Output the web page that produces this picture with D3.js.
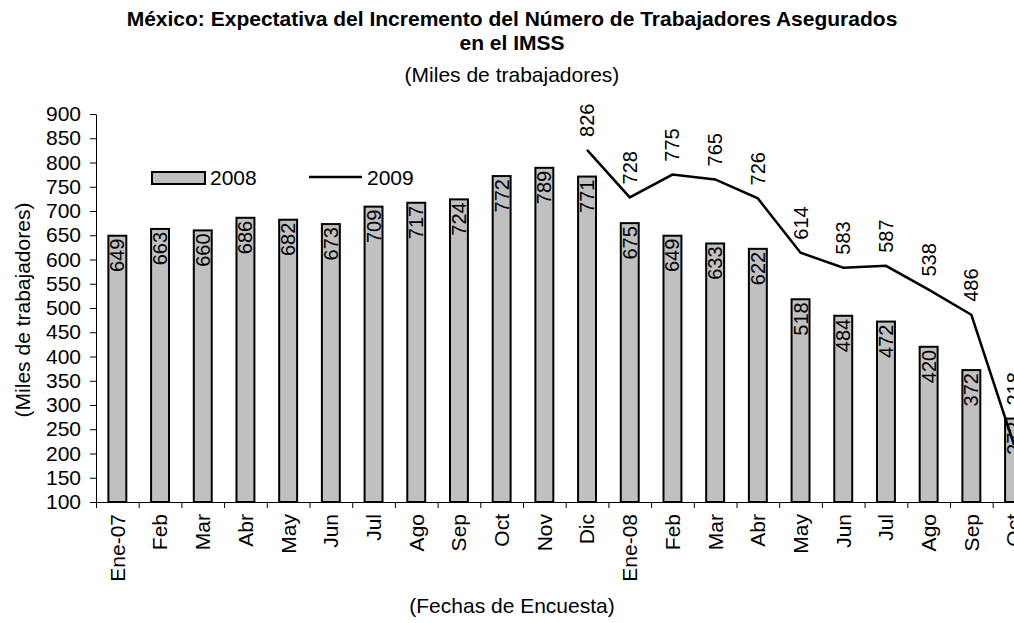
<!DOCTYPE html>
<html>
<head>
<meta charset="utf-8">
<script src="https://cdn.jsdelivr.net/npm/d3@7"></script>
<style>
  body { margin: 0; background: #fff; }
  svg { font-family: "Liberation Sans", Arial, sans-serif; }
</style>
</head>
<body>
<svg id="chart" width="1014" height="623"></svg>
<script>
// survey dates
const categories = ["Ene-07","Feb","Mar","Abr","May","Jun","Jul","Ago","Sep","Oct","Nov","Dic",
                    "Ene-08","Feb","Mar","Abr","May","Jun","Jul","Ago","Sep","Oct"];
// expectations for 2008 (bars)
const values2008 = [649,663,660,686,682,673,709,717,724,772,789,771,675,649,633,622,518,484,472,420,372,272];
// expectations for 2009 (line), starts in Dic
const values2009 = [null,null,null,null,null,null,null,null,null,null,null,
                    826,728,775,765,726,614,583,587,538,486,218];
const yTicks = d3.range(100, 901, 50);

const svg = d3.select("#chart");
const plotLeft = 96, plotTop = 114, plotBottom = 502;
const step = 42.7;
const fs = 21;

const x = d3.scaleBand()
    .domain(d3.range(categories.length))
    .range([plotLeft, plotLeft + step * categories.length])
    .paddingInner(0.58)
    .paddingOuter(0.29);
const xEdges = d3.scaleLinear()
    .domain([0, categories.length])
    .range([plotLeft, plotLeft + step * categories.length]);
const y = d3.scaleLinear().domain([100, 900]).range([plotBottom, plotTop]);

const cx = i => x(i) + x.bandwidth() / 2;

// titles
svg.append("text").attr("x", 512).attr("y", 26).attr("text-anchor", "middle")
    .attr("font-size", fs).attr("font-weight", "bold")
    .text("México: Expectativa del Incremento del Número de Trabajadores Asegurados");
svg.append("text").attr("x", 512).attr("y", 50).attr("text-anchor", "middle")
    .attr("font-size", fs).attr("font-weight", "bold")
    .text("en el IMSS");
svg.append("text").attr("x", 512).attr("y", 82).attr("text-anchor", "middle")
    .attr("font-size", fs)
    .text("(Miles de trabajadores)");

// bars
svg.append("g").selectAll("rect")
    .data(values2008)
    .join("rect")
    .attr("x", (d, i) => x(i))
    .attr("y", d => y(d))
    .attr("width", x.bandwidth())
    .attr("height", d => plotBottom - y(d))
    .attr("fill", "#c0c0c0")
    .attr("stroke", "#000")
    .attr("stroke-width", 2);

// bar labels
svg.append("g").selectAll("text")
    .data(values2008)
    .join("text")
    .attr("transform", (d, i) => `translate(${cx(i)},${y(d) + 3}) rotate(-90)`)
    .attr("text-anchor", "end")
    .attr("dy", "0.35em")
    .attr("font-size", 20)
    .text(d => d);

// y axis
const yAxis = svg.append("g")
    .attr("transform", `translate(${plotLeft},0)`)
    .call(d3.axisLeft(y).tickValues(yTicks).tickSize(6).tickSizeOuter(0).tickPadding(9));
yAxis.selectAll("text").attr("font-size", fs).attr("fill", "#000").attr("font-family", "Liberation Sans, Arial, sans-serif");
yAxis.selectAll("line,path").attr("stroke", "#000");

// x axis with ticks between categories
const xAxis = svg.append("g")
    .attr("transform", `translate(0,${plotBottom})`)
    .call(d3.axisBottom(xEdges).tickValues(d3.range(categories.length + 1)).tickSize(6).tickSizeOuter(0).tickFormat(""));
xAxis.selectAll("line,path").attr("stroke", "#000");

svg.append("g").selectAll("text")
    .data(categories)
    .join("text")
    .attr("transform", (d, i) => `translate(${cx(i)},${plotBottom + 12}) rotate(-90)`)
    .attr("text-anchor", "end")
    .attr("dy", "0.35em")
    .attr("font-size", fs)
    .text(d => d);

// 2009 line
const line = d3.line()
    .defined(d => d != null)
    .x((d, i) => cx(i))
    .y(d => y(d));
svg.append("path")
    .datum(values2009)
    .attr("d", line)
    .attr("fill", "none")
    .attr("stroke", "#000")
    .attr("stroke-width", 2.5);

// line labels sit above the point, or above the bar when the bar is taller
svg.append("g").selectAll("text")
    .data(values2009.map((v, i) => ({v, i})).filter(d => d.v != null))
    .join("text")
    .attr("transform", d => `translate(${cx(d.i)},${Math.min(y(d.v), y(values2008[d.i])) - 13}) rotate(-90)`)
    .attr("text-anchor", "start")
    .attr("dy", "0.35em")
    .attr("font-size", 20)
    .text(d => d.v);

// axis titles
svg.append("text")
    .attr("transform", "translate(30,310) rotate(-90)")
    .attr("text-anchor", "middle")
    .attr("font-size", fs)
    .text("(Miles de trabajadores)");
svg.append("text")
    .attr("x", 512).attr("y", 613)
    .attr("text-anchor", "middle")
    .attr("font-size", fs)
    .text("(Fechas de Encuesta)");

// legend
svg.append("rect").attr("x", 152).attr("y", 172).attr("width", 53).attr("height", 12)
    .attr("fill", "#c0c0c0").attr("stroke", "#000").attr("stroke-width", 2);
svg.append("text").attr("x", 210).attr("y", 185).attr("font-size", fs).text("2008");
svg.append("line").attr("x1", 309).attr("x2", 362).attr("y1", 177).attr("y2", 177)
    .attr("stroke", "#000").attr("stroke-width", 2.5);
svg.append("text").attr("x", 367).attr("y", 185).attr("font-size", fs).text("2009");
</script>
</body>
</html>
